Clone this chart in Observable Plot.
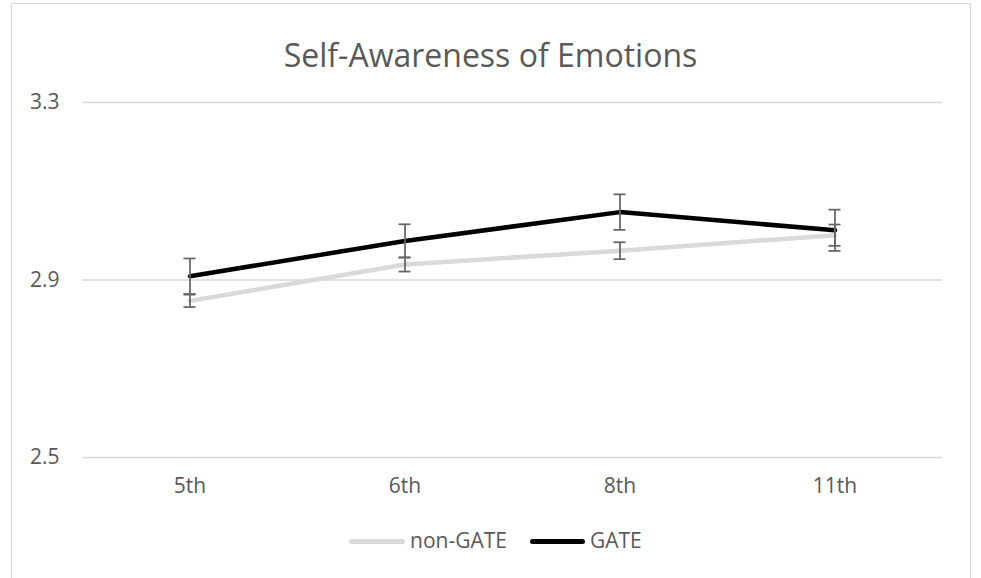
<!DOCTYPE html>
<html>
<head>
<meta charset="utf-8">
<script src="https://cdn.jsdelivr.net/npm/d3@7"></script>
<script src="https://cdn.jsdelivr.net/npm/@observablehq/plot@0.6"></script>
<style>
  html, body { margin: 0; padding: 0; background: #fff; overflow: hidden; }
  #wrap { position: relative; width: 981px; height: 578px; overflow: hidden; font-family: "Open Sans", sans-serif; color: #595959; }
  #frame { position: absolute; left: 11px; top: 3px; width: 960px; height: 640px; border: 1.5px solid #d9d9d9; box-sizing: border-box; }
  #chart { position: absolute; left: 0; top: 0; }
  #title { position: absolute; left: 0; top: 39px; width: 981px; text-align: center; font-size: 32px; line-height: 32px; font-weight: 400; color: #595959; margin: 0; }
  .sw { position: absolute; height: 5px; border-radius: 3px; top: 539px; }
  .lt { position: absolute; top: 530px; font-size: 21px; line-height: 21px; color: #595959; white-space: nowrap; }
</style>
</head>
<body>
<div id="wrap">
  <div id="frame"></div>
  <div id="chart"></div>
  <h1 id="title">Self-Awareness of Emotions</h1>
  <div id="legend"></div>
</div>
<script>
const grades = ["5th", "6th", "8th", "11th"];
const nonGate = [2.853, 2.935, 2.966, 3.001];
const nonGateErr = [0.014, 0.016, 0.019, 0.024];
const gate = [2.9085, 2.988, 3.053, 3.012];
const gateErr = [0.040, 0.0375, 0.040, 0.0465];
const yTicks = [2.5, 2.9, 3.3];
const seriesNames = ["non-GATE", "GATE"];
const seriesColors = ["#d9d9d9", "#000000"];

const rows = [];
grades.forEach((g, i) => {
  rows.push({grade: g, series: seriesNames[0], value: nonGate[i], err: nonGateErr[i]});
  rows.push({grade: g, series: seriesNames[1], value: gate[i], err: gateErr[i]});
});

const W = 981, ML = 82, MR = 39;
const bandW = (W - ML - MR) / grades.length;
const capHalf = 6;
const capInset = bandW / 2 - capHalf;
const errStyle = {stroke: "#666666", strokeWidth: 1.75};

const chart = Plot.plot({
  width: W,
  height: 578,
  marginTop: 102,
  marginBottom: 121,
  marginLeft: ML,
  marginRight: MR,
  style: {fontFamily: "'Open Sans', sans-serif", fontSize: "21px", color: "#595959", background: "transparent"},
  x: {type: "band", domain: grades, padding: 0, label: null},
  y: {domain: [2.5, 3.3], label: null},
  marks: [
    Plot.ruleY(yTicks, {stroke: "#d9d9d9", strokeWidth: 1.5}),
    Plot.axisY({ticks: yTicks, tickSize: 0, tickPadding: 23, tickFormat: d3.format(".1f"), label: null}),
    Plot.axisX({tickSize: 0, tickPadding: 21, label: null}),
    Plot.line(rows.filter(d => d.series === seriesNames[0]), {x: "grade", y: "value", stroke: seriesColors[0], strokeWidth: 4.5, strokeLinecap: "round", strokeLinejoin: "round"}),
    Plot.line(rows.filter(d => d.series === seriesNames[1]), {x: "grade", y: "value", stroke: seriesColors[1], strokeWidth: 4.5, strokeLinecap: "round", strokeLinejoin: "round"}),
    Plot.ruleX(rows, {x: "grade", y1: d => d.value - d.err, y2: d => d.value + d.err, ...errStyle}),
    Plot.tickY(rows, {x: "grade", y: d => d.value - d.err, insetLeft: capInset, insetRight: capInset, ...errStyle}),
    Plot.tickY(rows, {x: "grade", y: d => d.value + d.err, insetLeft: capInset, insetRight: capInset, ...errStyle})
  ]
});
document.getElementById("chart").appendChild(chart);

// Legend
const legend = document.getElementById("legend");
const legendLayout = [{sw: 349, w: 56, tx: 410}, {sw: 530, w: 55, tx: 590}];
seriesNames.forEach((name, i) => {
  const s = document.createElement("div");
  s.className = "sw";
  s.style.left = legendLayout[i].sw + "px";
  s.style.width = legendLayout[i].w + "px";
  s.style.background = seriesColors[i];
  legend.appendChild(s);
  const t = document.createElement("div");
  t.className = "lt";
  t.style.left = legendLayout[i].tx + "px";
  t.textContent = name;
  legend.appendChild(t);
});
</script>
</body>
</html>
